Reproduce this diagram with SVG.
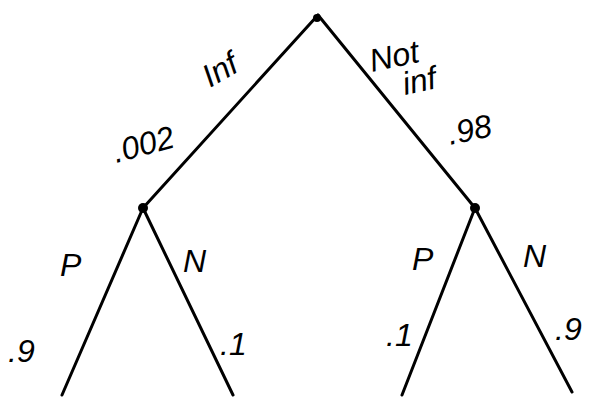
<svg xmlns="http://www.w3.org/2000/svg" width="607" height="404" viewBox="0 0 607 404">
<style>
.e{stroke:#000;stroke-width:3;stroke-linecap:round;fill:none}
.t{font-family:"Liberation Sans","DejaVu Sans",sans-serif;font-style:italic;font-size:32px;fill:#000}
.n{fill:#000}
</style>
<rect width="607" height="404" fill="#fff"/>
<g id="connectors">
<line class="e" x1="318" y1="15" x2="143" y2="208"/>
<line class="e" x1="318" y1="15" x2="475" y2="208"/>
<line class="e" x1="143" y1="208" x2="62" y2="395"/>
<line class="e" x1="143" y1="208" x2="233" y2="395"/>
<line class="e" x1="475" y1="208" x2="402" y2="395"/>
<line class="e" x1="475" y1="208" x2="572" y2="392"/>
</g>
<g id="root"><circle class="n" cx="317" cy="18" r="4"/></g>
<g id="inf"><circle class="n" cx="143" cy="208" r="5"/></g>
<g id="notinf"><circle class="n" cx="475" cy="208" r="5"/></g>
<g id="labels">
<text class="t" transform="translate(210,88) rotate(-30)">Inf</text>
<text class="t" transform="translate(372,72) rotate(-12)">Not</text>
<text class="t" transform="translate(405,95) rotate(-12)">inf</text>
<text class="t" transform="translate(116,163) rotate(-15)">.002</text>
<text class="t" transform="translate(450,145) rotate(-12)">.98</text>
<text class="t" x="60" y="276">P</text>
<text class="t" x="183" y="272">N</text>
<text class="t" x="8" y="362">.9</text>
<text class="t" x="220" y="355">.1</text>
<text class="t" x="412" y="270">P</text>
<text class="t" x="523" y="267">N</text>
<text class="t" x="386" y="346">.1</text>
<text class="t" x="555" y="340">.9</text>
</g>
</svg>
